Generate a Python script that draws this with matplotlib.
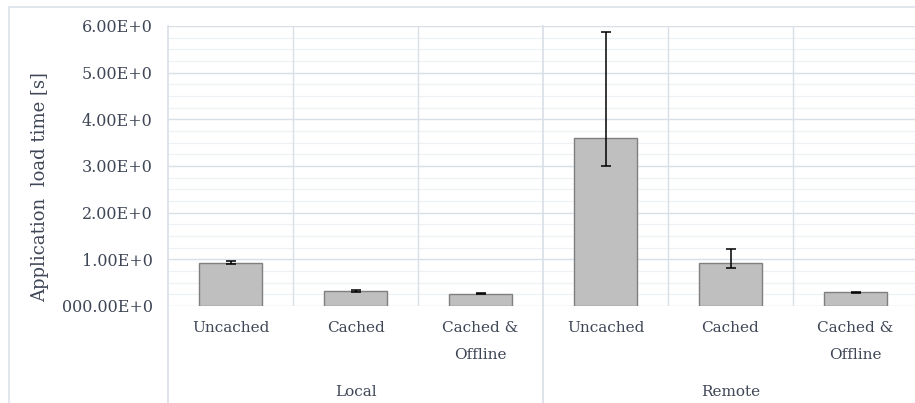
import numpy as np
import matplotlib.pyplot as plt
from matplotlib.transforms import blended_transform_factory

# Load time measurements (seconds), grouped by where the app is served from
groups = ['Local', 'Remote']
categories = ['Uncached', 'Cached', 'Cached &\nOffline']
mean_local = [0.93, 0.32, 0.26]
mean_remote = [3.60, 0.92, 0.29]
err_low_local = [0.03, 0.02, 0.01]
err_high_local = [0.03, 0.02, 0.01]
err_low_remote = [0.60, 0.10, 0.015]
err_high_remote = [2.27, 0.30, 0.015]
ytick_values = [0, 1, 2, 3, 4, 5, 6]
ytick_labels = ['000.00E+0', '1.00E+0', '2.00E+0', '3.00E+0', '4.00E+0', '5.00E+0', '6.00E+0']

text_color = '#3f4656'
grid_major = '#d9dfe7'
grid_minor = '#eef1f5'
plt.rcParams['font.family'] = ['DejaVu Serif']

means = mean_local + mean_remote
err_low = err_low_local + err_low_remote
err_high = err_high_local + err_high_remote
x = np.arange(len(means))

fig = plt.figure(figsize=(9.15, 4.03), dpi=100)
ax = fig.add_axes([168 / 915, 97 / 403, 750 / 915, 280 / 403])

# light grid: major every 1 s, minor every 0.25 s
for v in np.arange(0, 6.01, 0.25):
    is_major = abs(v - round(v)) < 1e-9
    ax.axhline(v, color=grid_major if is_major else grid_minor,
               lw=1.0 if is_major else 0.9, zorder=0)
for xs in [0.5, 1.5, 3.5, 4.5]:
    ax.axvline(xs, color=grid_major, lw=1.0, zorder=0)
# group separators run down through the label area
for xs in [-0.5, 2.5]:
    ax.axvline(xs, ymin=-0.35, ymax=1, color=grid_major, lw=1.2, zorder=0, clip_on=False)

ax.bar(x, means, width=0.5, color='#bfbfbf', edgecolor='#7f7f7f', linewidth=1.0, zorder=2)
ax.errorbar(x, means, yerr=[err_low, err_high], fmt='none', ecolor='black',
            elinewidth=1.1, capsize=3.5, capthick=1.1, zorder=3)

ax.set_xlim(-0.5, 5.5)
ax.set_ylim(0, 6)
ax.set_yticks(ytick_values)
ax.set_yticklabels(ytick_labels)
ax.tick_params(axis='y', length=0, pad=11, labelsize=11.5, labelcolor=text_color)
ax.set_xticks([])
for s in ax.spines.values():
    s.set_visible(False)

ax.set_ylabel('Application  load time [s]', fontsize=13, color=text_color, va='center')
ax.yaxis.set_label_coords((40 - 168) / 750, (306 - 187) / 280)

trans = blended_transform_factory(ax.transData, ax.transAxes)
for i in x:
    ax.text(i, -(321 - 306) / 280, categories[i % 3], transform=trans, ha='center', va='top',
            fontsize=11, color=text_color, linespacing=2.2)
for g, name in enumerate(groups):
    ax.text(g * 3 + 1, -(392 - 306) / 280, name, transform=trans, ha='center', va='center',
            fontsize=11, color=text_color)

# outer chart border
fig.add_artist(plt.Line2D([9 / 915, 9 / 915], [0, 1 - 7 / 403], color='#dde3ea', lw=1.2))
fig.add_artist(plt.Line2D([9 / 915, 1], [1 - 7 / 403, 1 - 7 / 403], color='#dde3ea', lw=1.2))

fig.savefig('out.png', dpi=100)
